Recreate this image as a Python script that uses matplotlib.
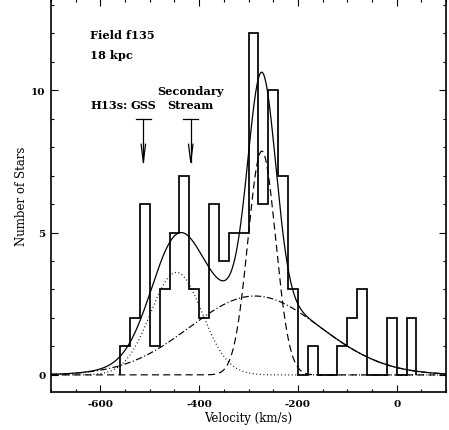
import numpy as np
import matplotlib
matplotlib.use("Agg")
import matplotlib.pyplot as plt
from matplotlib.ticker import MultipleLocator

plt.rcParams["axes.unicode_minus"] = False
plt.rcParams["font.family"] = "DejaVu Serif"
plt.rcParams["font.weight"] = "bold"

# Velocity histogram (20 km/s bins)
bin_edges = np.arange(-560, 41, 20)
star_counts = [1, 2, 6, 1, 3, 5, 7, 3, 2, 6, 4, 5, 5, 12, 6, 10, 7, 3,
               0, 1, 0, 0, 1, 2, 3, 0, 0, 2, 0, 2]

# Gaussian components of the fit: (mean, sigma, peak height)
cold_component = (-273.0, 28.0, 7.86)
gss_component = (-446.0, 52.0, 3.60)
halo_component = (-287.0, 132.0, 2.77)

# Kinematic features marked with arrows
feature_names = ["GSS", "Secondary\nStream"]
feature_velocities = [-513.0, -417.0]


def gauss(v, comp):
    mu, sig, amp = comp
    return amp * np.exp(-0.5 * ((v - mu) / sig) ** 2)


fig = plt.figure(figsize=(4.49, 4.31), dpi=100)
ax = fig.add_axes([51 / 449, 38 / 431, 395 / 449, 393 / 431])

ax.stairs(star_counts, bin_edges, baseline=0, fill=False,
          color="black", lw=1.25)

v = np.linspace(-700, 100, 1200)
cold = gauss(v, cold_component)
gss = gauss(v, gss_component)
halo = gauss(v, halo_component)
ax.plot(v, cold, color="black", lw=0.85, dashes=(6, 3.5))
ax.plot(v, gss, color="black", lw=0.85, dashes=(0.8, 2.2))
ax.plot(v, halo, color="black", lw=0.85, dashes=(5.5, 2, 1, 2))
ax.plot(v, cold + gss + halo, color="black", lw=0.9)

ax.set_xlim(-700, 100)
ax.set_ylim(-0.6, 13.2)

ax.xaxis.set_major_locator(MultipleLocator(200))
ax.xaxis.set_minor_locator(MultipleLocator(50))
ax.yaxis.set_major_locator(MultipleLocator(5))
ax.yaxis.set_minor_locator(MultipleLocator(1))
ax.tick_params(which="both", direction="in", top=True, right=True,
               width=0.8, labelsize=7.5)
ax.tick_params(which="major", length=4.8)
ax.tick_params(which="minor", length=2.4)
ax.tick_params(axis="x", pad=5)
ax.tick_params(axis="y", pad=4)
for s in ax.spines.values():
    s.set_linewidth(1.2)

ax.set_xlabel("Velocity (km/s)", fontsize=8.5, labelpad=2)
ax.set_ylabel("Number of Stars", fontsize=8.5, labelpad=2)

# Field annotation
fs = 8.2
ax.text(-620, 11.95, "Field f135", fontsize=fs, ha="left", va="center")
ax.text(-620, 11.25, "18 kpc", fontsize=fs, ha="left", va="center")
ax.text(-620, 9.48, "H13s:", fontsize=fs, ha="left", va="center")
ax.text(feature_velocities[0], 9.48, feature_names[0], fontsize=fs,
        ha="center", va="center")
ax.text(feature_velocities[1], 9.74, feature_names[1], fontsize=fs,
        ha="center", va="center", linespacing=1.3)

# Arrows with a flat bar on top and an open head
for fv in feature_velocities:
    ax.plot([fv - 15, fv + 15], [9.0, 9.0], color="black", lw=0.9)
    ax.plot([fv, fv], [9.0, 7.47], color="black", lw=0.9)
    ax.plot([fv - 4.5, fv, fv + 4.5], [8.1, 7.47, 8.1], color="black", lw=0.9)

fig.savefig("out.png", dpi=100)
